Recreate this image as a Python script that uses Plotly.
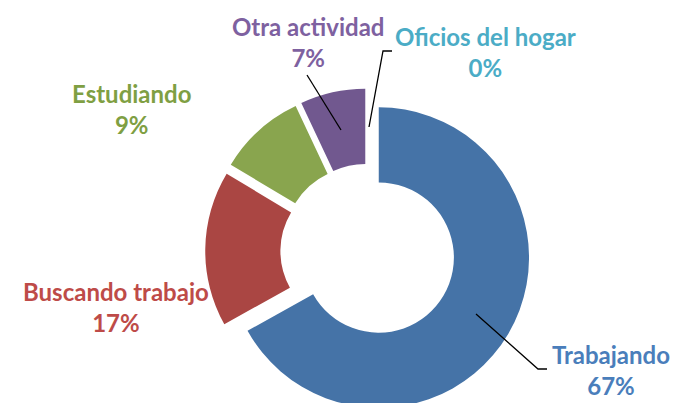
import plotly.graph_objects as go

categories = ["Trabajando", "Buscando trabajo", "Estudiando", "Otra actividad", "Oficios del hogar"]
values = [66.9, 16.7, 9.4, 7.0, 0]
pct_labels = ["67%", "17%", "9%", "7%", "0%"]

slice_colors = ["#4573A7", "#AA4643", "#89A54E", "#71588F", "#4BACC6"]
text_colors = ["#4A7EBB", "#BE4B48", "#7F9F43", "#7E61A0", "#4BACC6"]

W, H = 678, 406
OFF = 8  # page offset of the plot div


def px(x, y):
    return (x - OFF) / W, 1 - (y - OFF) / H


cx, top = 368 - OFF, 251 - OFF - 162.5
fig = go.Figure()
fig.add_trace(go.Pie(
    labels=categories,
    values=values,
    hole=0.5,
    sort=False,
    direction="clockwise",
    rotation=0,
    pull=[0.083] * len(values),
    marker=dict(colors=slice_colors, line=dict(width=0)),
    textinfo="none",
    hoverinfo="label+percent",
    showlegend=False,
    domain=dict(x=[(cx - 170) / W, (cx + 170) / W], y=[0, 1 - top / H]),
))

# label centres in screen px, layout only
label_pos = [(611, 370), (116, 307), (132, 109), (308, 42), (485, 52)]
for i, (name, pct) in enumerate(zip(categories, pct_labels)):
    x, y = px(*label_pos[i])
    fig.add_annotation(
        x=x, y=y, xref="paper", yref="paper",
        xanchor="center", yanchor="middle",
        text=f"<b>{name}</b><br><b>{pct}</b>",
        showarrow=False, align="center",
        font=dict(family="Lato", size=24, color=text_colors[i]),
    )

# leader lines
leaders = [
    [(476, 314), (538, 369), (547, 369)],
    [(307, 75), (341, 130)],
    [(369, 127), (383, 51), (392, 51)],
]
for pts in leaders:
    path = "M " + " L ".join("{},{}".format(*px(x, y)) for x, y in pts)
    fig.add_shape(type="path", xref="paper", yref="paper", path=path,
                  line=dict(color="black", width=1.3))

fig.update_layout(
    width=W, height=H,
    margin=dict(l=0, r=0, t=0, b=0),
    paper_bgcolor="white",
    plot_bgcolor="white",
)
fig.write_html("out.html")
